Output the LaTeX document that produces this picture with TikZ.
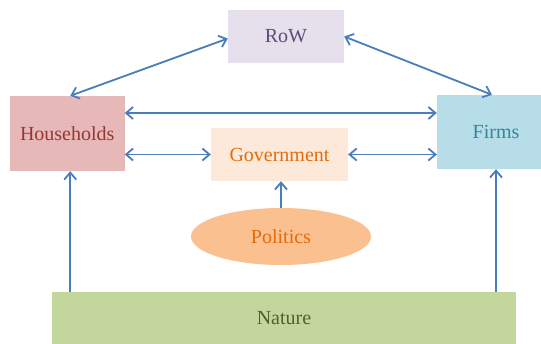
\documentclass[tikz,border=0pt]{standalone}
\usepackage{fontspec}
\setmainfont{Liberation Serif}
\usetikzlibrary{arrows.meta,shapes.geometric,calc}
\definecolor{arrowblue}{HTML}{4A7EBB}
\definecolor{rowfill}{HTML}{E6E0EC}
\definecolor{rowtext}{HTML}{604A7B}
\definecolor{hhfill}{HTML}{E6B9B8}
\definecolor{hhtext}{HTML}{953735}
\definecolor{firmfill}{HTML}{B7DEE8}
\definecolor{firmtext}{HTML}{31859C}
\definecolor{govfill}{HTML}{FDE9D9}
\definecolor{orangetext}{HTML}{E46C0A}
\definecolor{polfill}{HTML}{FAC090}
\definecolor{natfill}{HTML}{C3D69B}
\definecolor{nattext}{HTML}{4F6228}
\tikzset{
  box/.style={rectangle, inner sep=0pt, font=\fontsize{20}{22}\selectfont},
  arr/.style={draw=arrowblue, line width=1.8pt,
    {Straight Barb[length=7pt,width=12pt]}-{Straight Barb[length=7pt,width=12pt]}},
  uparr/.style={draw=arrowblue, line width=1.8pt,
    -{Straight Barb[length=7pt,width=12pt]}}
}
\begin{document}
\begin{tikzpicture}[x=1pt,y=-1pt]
\clip (0,0) rectangle (541,343);
\fill[white] (0,0) rectangle (541,343);
\node[box, fill=rowfill, text=rowtext, minimum width=116pt, minimum height=53pt] (row) at (286,36.5) {RoW};
\node[box, fill=hhfill, text=hhtext, minimum width=114.5pt, minimum height=75pt] (hh) at (67.25,133.5) {Households};
\node[box, fill=firmfill, text=firmtext, minimum width=118pt, minimum height=74pt] (firms) at (496,132) {Firms};
\node[box, fill=govfill, text=orangetext, minimum width=137pt, minimum height=53pt] (gov) at (279.5,154.5) {Government};
\node[box, ellipse, fill=polfill, text=orangetext, minimum width=180pt, minimum height=57pt] (pol) at (281,236.5) {Politics};
\node[box, fill=natfill, text=nattext, minimum width=464pt, minimum height=52pt] (nat) at (284,318) {Nature};
\draw[arr] ([xshift=3pt]hh.north) -- ([yshift=-2pt]row.west);
\draw[arr] (row.east) -- ([xshift=-4pt]firms.north);
\coordinate (htop) at ([yshift=20.5pt]hh.east);
\draw[arr] (htop) -- (htop -| firms.west);
\draw[arr] (gov.west -| hh.east) -- (gov.west);
\draw[arr] (gov.east) -- (gov.east -| firms.west);
\coordinate (hfoot) at ([xshift=3pt]hh.south);
\draw[uparr] (nat.north -| hfoot) -- (hfoot);
\draw[uparr] (nat.north -| firms.south) -- (firms.south);
\draw[uparr] (pol.north) -- (pol.north |- gov.south);
\end{tikzpicture}
\end{document}
